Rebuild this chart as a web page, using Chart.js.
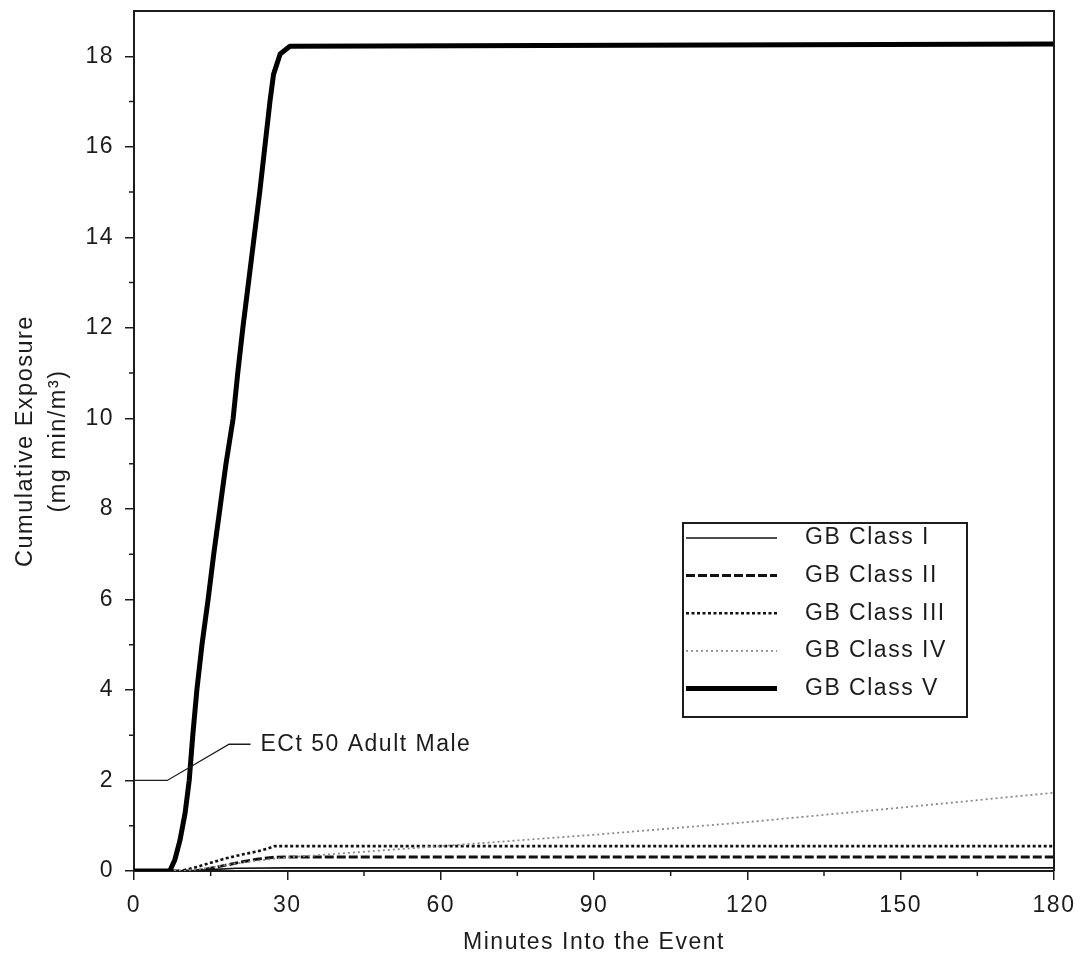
<!DOCTYPE html>
<html>
<head>
<meta charset="utf-8">
<script src="https://cdn.jsdelivr.net/npm/chart.js@4.4.1/dist/chart.umd.min.js"></script>
<style>
  html, body { margin: 0; padding: 0; background: #fff; }
</style>
</head>
<body>
<canvas id="exposure-chart" width="1081" height="957"></canvas>
<script>
// values (minutes, mg min/m3)
const classNames = ['GB Class I', 'GB Class II', 'GB Class III', 'GB Class IV', 'GB Class V'];

const classIMinutes = [0, 10, 15, 20, 30, 180];
const classIValues = [0, 0, 0.03, 0.06, 0.07, 0.07];

const classIIMinutes = [0, 12, 15, 18, 21, 24, 27, 30, 180];
const classIIValues = [0, 0, 0.06, 0.13, 0.2, 0.26, 0.3, 0.31, 0.31];

const classIIIMinutes = [0, 9, 12, 15, 18, 21, 24, 26, 27.5, 180];
const classIIIValues = [0, 0, 0.08, 0.18, 0.28, 0.36, 0.43, 0.49, 0.55, 0.55];

const classIVMinutes = [0, 10, 15, 20, 25, 30, 60, 90, 120, 150, 180];
const classIVValues = [0, 0, 0.08, 0.17, 0.24, 0.3, 0.55, 0.8, 1.08, 1.4, 1.73];

const classVMinutes = [0, 7, 8, 9, 10, 10.8, 11.5, 12.3, 13.3, 14.5, 15.6, 16.8, 18, 19.4, 20.3, 21.3, 22.4, 23.5, 24.6, 25.6, 26.6, 27.3, 28.6, 30.5, 180];
const classVValues = [0, 0, 0.25, 0.68, 1.28, 2, 3, 4, 5, 6, 7, 8, 9, 10, 11, 12, 13, 14, 15, 16, 17, 17.6, 18.05, 18.22, 18.27];

// leader line for the ECt50 note
const ectLabel = 'ECt 50 Adult Male';
const ectLeaderMinutes = [0, 6.5, 18.6, 22.8];
const ectLeaderValues = [2, 2, 2.8, 2.8];

const xTickStep = 30;
const yTickStep = 2;

const FONT = '"Liberation Sans", Arial, Helvetica, sans-serif';
const INK = '#1c1c1c';
const SPACING = '1.5px';

function toPoints(xs, ys) {
    return xs.map((x, i) => ({x: x, y: ys[i]}));
}

// the scan's lettering is wider than Arial, so space it out a bit
const wideText = {
    id: 'wideText',
    beforeUpdate(chart) { chart.ctx.letterSpacing = SPACING; },
    beforeDraw(chart) { chart.ctx.letterSpacing = SPACING; }
};

const minorTicks = {
    id: 'minorTicks',
    afterDraw(chart) {
        const {ctx, chartArea, scales: {x, y}} = chart;
        ctx.save();
        ctx.strokeStyle = INK;
        ctx.lineWidth = 1.5;
        ctx.beginPath();
        for (let m = xTickStep / 2; m < x.max; m += xTickStep) {
            const px = x.getPixelForValue(m);
            ctx.moveTo(px, chartArea.bottom);
            ctx.lineTo(px, chartArea.bottom + 5);
        }
        for (let v = yTickStep / 2; v < y.max; v += yTickStep) {
            const py = y.getPixelForValue(v);
            ctx.moveTo(chartArea.left, py);
            ctx.lineTo(chartArea.left - 5, py);
        }
        ctx.stroke();
        ctx.restore();
    }
};

const frame = {
    id: 'frame',
    afterDraw(chart) {
        const {ctx, chartArea: a} = chart;
        ctx.save();
        ctx.strokeStyle = INK;
        ctx.lineWidth = 2;
        ctx.beginPath();
        ctx.moveTo(a.left, a.top);
        ctx.lineTo(a.right, a.top);
        ctx.lineTo(a.right, a.bottom);
        ctx.stroke();
        ctx.restore();
    }
};

const ectNote = {
    id: 'ectNote',
    afterDatasetsDraw(chart) {
        const {ctx, scales: {x, y}} = chart;
        ctx.save();
        ctx.strokeStyle = INK;
        ctx.lineWidth = 1.3;
        ctx.beginPath();
        ectLeaderMinutes.forEach((m, i) => {
            const px = x.getPixelForValue(m);
            const py = y.getPixelForValue(ectLeaderValues[i]);
            if (i === 0) ctx.moveTo(px, py); else ctx.lineTo(px, py);
        });
        ctx.stroke();
        const last = ectLeaderMinutes.length - 1;
        ctx.fillStyle = INK;
        ctx.font = '23px ' + FONT;
        ctx.textBaseline = 'middle';
        ctx.fillText(ectLabel, x.getPixelForValue(ectLeaderMinutes[last]) + 10, y.getPixelForValue(ectLeaderValues[last]));
        ctx.restore();
    }
};

const boxLegend = {
    id: 'boxLegend',
    afterDraw(chart) {
        const {ctx, chartArea: a} = chart;
        const left = a.right - 371, top = a.top + 512, w = 284, h = 194;
        ctx.save();
        ctx.fillStyle = '#fff';
        ctx.fillRect(left, top, w, h);
        ctx.strokeStyle = INK;
        ctx.lineWidth = 2;
        ctx.strokeRect(left, top, w, h);
        ctx.font = '23px ' + FONT;
        ctx.textBaseline = 'middle';
        chart.data.datasets.forEach((ds, i) => {
            const yy = top + 15 + i * 37.6;
            ctx.strokeStyle = ds.borderColor;
            ctx.lineWidth = ds.borderWidth;
            ctx.setLineDash(ds.borderDash || []);
            ctx.beginPath();
            ctx.moveTo(left + 3, yy);
            ctx.lineTo(left + 94, yy);
            ctx.stroke();
            ctx.setLineDash([]);
            ctx.fillStyle = INK;
            ctx.fillText(ds.label, left + 122, yy);
        });
        ctx.restore();
    }
};

new Chart(document.querySelector('#exposure-chart').getContext('2d'), {
    type: 'line',
    data: {
        datasets: [
            {label: classNames[0], data: toPoints(classIMinutes, classIValues), borderColor: '#111', borderWidth: 1.6, order: 4},
            {label: classNames[1], data: toPoints(classIIMinutes, classIIValues), borderColor: '#111', borderWidth: 3, borderDash: [9, 3], order: 3},
            {label: classNames[2], data: toPoints(classIIIMinutes, classIIIValues), borderColor: '#111', borderWidth: 2.6, borderDash: [3, 2.5], order: 2},
            {label: classNames[3], data: toPoints(classIVMinutes, classIVValues), borderColor: '#8a8a8a', borderWidth: 1.8, borderDash: [2, 3], order: 1},
            {label: classNames[4], data: toPoints(classVMinutes, classVValues), borderColor: '#000', borderWidth: 5, order: 0}
        ]
    },
    options: {
        responsive: false,
        devicePixelRatio: 1,
        animation: false,
        layout: {padding: {left: 0, top: 11, right: 27, bottom: 0}},
        elements: {
            point: {radius: 0},
            line: {tension: 0, fill: false, borderCapStyle: 'butt', borderJoinStyle: 'round'}
        },
        plugins: {
            legend: {display: false},
            tooltip: {enabled: false}
        },
        scales: {
            x: {
                type: 'linear',
                min: 0,
                max: 180,
                afterFit: scale => {
                    scale.height = 86;
                    scale.paddingLeft = 0;
                    scale.paddingRight = 0;
                },
                ticks: {stepSize: xTickStep, color: INK, padding: 12, font: {family: FONT, size: 23}, maxRotation: 0, includeBounds: false},
                grid: {drawOnChartArea: false, drawTicks: true, tickLength: 9, color: INK, lineWidth: 1.5},
                border: {display: true, color: INK, width: 2},
                title: {display: true, text: 'Minutes Into the Event', color: INK, font: {family: FONT, size: 23, lineHeight: 1.2}, padding: {top: 0, bottom: 1}}
            },
            y: {
                min: 0,
                max: 19,
                afterFit: scale => {
                    scale.width = 134;
                    scale.paddingTop = 0;
                    scale.paddingBottom = 0;
                },
                ticks: {stepSize: yTickStep, color: INK, padding: 11, font: {family: FONT, size: 23}, includeBounds: false},
                grid: {drawOnChartArea: false, drawTicks: true, tickLength: 9, color: INK, lineWidth: 1.5},
                border: {display: true, color: INK, width: 2},
                title: {display: true, text: ['Cumulative Exposure', '(mg min/m³)'], color: INK, font: {family: FONT, size: 23.5, lineHeight: 1.4}, padding: {top: 9, bottom: 0}}
            }
        }
    },
    plugins: [wideText, minorTicks, frame, ectNote, boxLegend]
});
</script>
</body>
</html>
